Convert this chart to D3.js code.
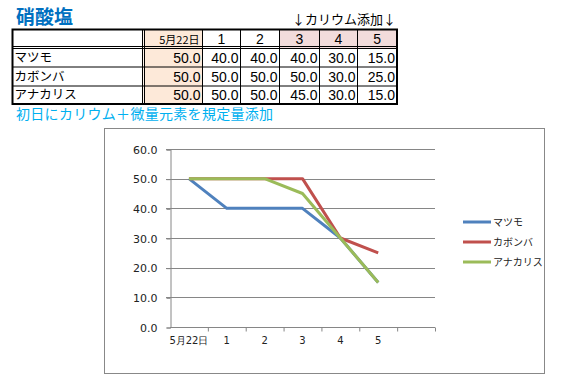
<!DOCTYPE html>
<html>
<head>
<meta charset="utf-8">
<script src="https://cdn.jsdelivr.net/npm/d3@7"></script>
<style>
  body { margin: 0; background: #fff; }
  svg { display: block; font-family: "Noto Sans CJK JP", "Noto Sans", sans-serif; }
</style>
</head>
<body>
<svg width="561" height="389"></svg>
<script>
  // data
  const categories = ['5月22日', '1', '2', '3', '4', '5'];
  const seriesNames = ['マツモ', 'カボンバ', 'アナカリス'];
  const matsumo = [50, 40, 40, 40, 30, 15];
  const kabomba = [50, 50, 50, 50, 30, 25];
  const anacharis = [50, 50, 50, 45, 30, 15];
  const yTicks = [0, 10, 20, 30, 40, 50, 60];

  const seriesValues = [matsumo, kabomba, anacharis];
  const colors = ['#4F81BD', '#C0504D', '#9BBB59'];
  const numFont = '"Liberation Sans", Arial, sans-serif';

  const svg = d3.select('svg');

  // ---- titles
  svg.append('text')
    .attr('x', 16).attr('y', 24)
    .attr('font-size', 19).attr('font-weight', 'bold')
    .attr('fill', '#0070C0')
    .text('硝酸塩');

  svg.append('text')
    .attr('x', 396).attr('y', 24)
    .attr('text-anchor', 'end')
    .attr('font-size', 13)
    .attr('fill', '#000')
    .text('↓カリウム添加↓');

  // ---- table
  const colEdges = [12.5, 143.5, 202.5, 240.5, 279.5, 319.5, 357.5, 397];
  const rowEdges = [29.5, 48, 67, 86, 104];
  const table = svg.append('g').attr('class', 'table');

  // fills: first date column peach, K-added headers pink
  table.append('rect')
    .attr('x', colEdges[1]).attr('y', rowEdges[0])
    .attr('width', colEdges[2] - colEdges[1]).attr('height', rowEdges[4] - rowEdges[0])
    .attr('fill', '#FDE9D9');
  [3, 4, 5].forEach(i => {
    table.append('rect')
      .attr('x', colEdges[i + 1]).attr('y', rowEdges[0])
      .attr('width', colEdges[i + 2] - colEdges[i + 1]).attr('height', rowEdges[1] - rowEdges[0])
      .attr('fill', '#F2DCDB');
  });

  // thin grid lines
  colEdges.slice(2, -1).forEach(x => {
    table.append('line')
      .attr('x1', x).attr('x2', x).attr('y1', rowEdges[0]).attr('y2', rowEdges[4])
      .attr('stroke', '#000').attr('stroke-width', 1);
  });
  rowEdges.slice(2, -1).forEach(y => {
    table.append('line')
      .attr('x1', colEdges[0]).attr('x2', colEdges[7]).attr('y1', y).attr('y2', y)
      .attr('stroke', '#000').attr('stroke-width', 1);
  });
  // double lines
  [rowEdges[1] - 1.5, rowEdges[1] + 0.5].forEach(y => {
    table.append('line')
      .attr('x1', colEdges[0]).attr('x2', colEdges[7]).attr('y1', y).attr('y2', y)
      .attr('stroke', '#000').attr('stroke-width', 1);
  });
  [colEdges[1] - 1, colEdges[1] + 1].forEach(x => {
    table.append('line')
      .attr('x1', x).attr('x2', x).attr('y1', rowEdges[0]).attr('y2', rowEdges[4])
      .attr('stroke', '#000').attr('stroke-width', 1);
  });
  // outer border
  table.append('rect')
    .attr('x', colEdges[0]).attr('y', rowEdges[0])
    .attr('width', colEdges[7] - colEdges[0]).attr('height', rowEdges[4] - rowEdges[0])
    .attr('fill', 'none').attr('stroke', '#000').attr('stroke-width', 2);

  // header text
  categories.forEach((c, i) => {
    const x0 = colEdges[i + 1], x1 = colEdges[i + 2];
    table.append('text')
      .attr('x', i === 0 ? x1 - 3 : (x0 + x1) / 2)
      .attr('y', rowEdges[1] - 4.5)
      .attr('text-anchor', i === 0 ? 'end' : 'middle')
      .attr('font-size', i === 0 ? 11 : 14)
      .attr('font-family', i === 0 ? null : numFont)
      .text(c);
  });
  // body text
  seriesNames.forEach((name, r) => {
    const yb = rowEdges[r + 2] - 4.5;
    table.append('text')
      .attr('x', colEdges[0] + 2).attr('y', yb - 0.5)
      .attr('font-size', 12.5)
      .text(name);
    seriesValues[r].forEach((v, i) => {
      table.append('text')
        .attr('x', colEdges[i + 2] - 2).attr('y', yb)
        .attr('text-anchor', 'end')
        .attr('font-size', 14)
        .attr('font-family', numFont)
        .text(d3.format('.1f')(v));
    });
  });

  svg.append('text')
    .attr('x', 16).attr('y', 119)
    .attr('font-size', 14)
    .attr('letter-spacing', 0.3)
    .attr('fill', '#00B0F0')
    .text('初日にカリウム＋微量元素を規定量添加');

  // ---- chart
  svg.append('rect')
    .attr('x', 104.5).attr('y', 128.5)
    .attr('width', 440).attr('height', 245)
    .attr('fill', '#fff').attr('stroke', '#888').attr('stroke-width', 1);

  const plot = { left: 170, right: 435, top: 149, bottom: 327 };

  // one spare slot on the right, as in the sheet chart
  const x = d3.scaleBand()
    .domain(categories.concat(['']))
    .range([plot.left, plot.right]);

  const y = d3.scaleLinear()
    .domain([0, 60])
    .range([plot.bottom, plot.top]);

  const g = svg.append('g');

  // gridlines
  g.selectAll('.grid').data(yTicks.filter(d => d > 0))
    .enter().append('line')
      .attr('class', 'grid')
      .attr('x1', plot.left - 4).attr('x2', plot.right)
      .attr('y1', d => Math.round(y(d)) + 0.5).attr('y2', d => Math.round(y(d)) + 0.5)
      .attr('stroke', '#868686');

  const yAxis = d3.axisLeft(y)
    .tickValues(yTicks)
    .tickSize(4)
    .tickPadding(9)
    .tickFormat(d3.format('.1f'));

  const yAxisG = g.append('g')
    .attr('transform', `translate(${plot.left + 0.5},0.5)`)
    .call(yAxis);
  yAxisG.select('.domain').attr('stroke', '#868686');
  yAxisG.selectAll('.tick line').attr('stroke', '#868686');
  yAxisG.selectAll('.tick text')
    .attr('font-size', 11).attr('fill', '#222')
    .attr('font-family', 'Verdana, "DejaVu Sans", sans-serif');

  // x axis: ticks on band boundaries
  const xAxisG = g.append('g').attr('transform', `translate(0,${Math.round(plot.bottom) + 0.5})`);
  xAxisG.append('line')
    .attr('x1', plot.left).attr('x2', plot.right)
    .attr('stroke', '#868686');
  xAxisG.selectAll('.xt').data(x.domain().slice(1).concat(['__end']))
    .enter().append('line')
      .attr('class', 'xt')
      .attr('x1', d => (d === '__end' ? plot.right : x(d)) + 0.5)
      .attr('x2', d => (d === '__end' ? plot.right : x(d)) + 0.5)
      .attr('y1', 0).attr('y2', 4)
      .attr('stroke', '#868686');
  xAxisG.selectAll('.xl').data(categories)
    .enter().append('text')
      .attr('class', 'xl')
      .attr('x', d => x(d) + x.bandwidth() / 2)
      .attr('y', 16)
      .attr('text-anchor', 'middle')
      .attr('font-size', 10).attr('fill', '#222')
      .attr('font-family', 'Verdana, "DejaVu Sans", sans-serif')
      .text(d => d);

  // lines
  const line = d3.line()
    .x((d, i) => x(categories[i]) + x.bandwidth() / 2)
    .y(d => y(d));

  g.selectAll('.series').data(seriesValues)
    .enter().append('path')
      .attr('class', 'series')
      .attr('d', line)
      .attr('fill', 'none')
      .attr('stroke', (d, i) => colors[i])
      .attr('stroke-width', 3)
      .attr('stroke-linejoin', 'round');

  // legend
  const legend = svg.append('g');
  seriesNames.forEach((name, i) => {
    const ly = 222 + i * 20;
    legend.append('line')
      .attr('x1', 463).attr('x2', 491).attr('y1', ly).attr('y2', ly)
      .attr('stroke', colors[i]).attr('stroke-width', 3);
    legend.append('text')
      .attr('x', 493).attr('y', ly + 4)
      .attr('font-size', 10).attr('fill', '#222')
      .text(name);
  });
</script>
</body>
</html>
